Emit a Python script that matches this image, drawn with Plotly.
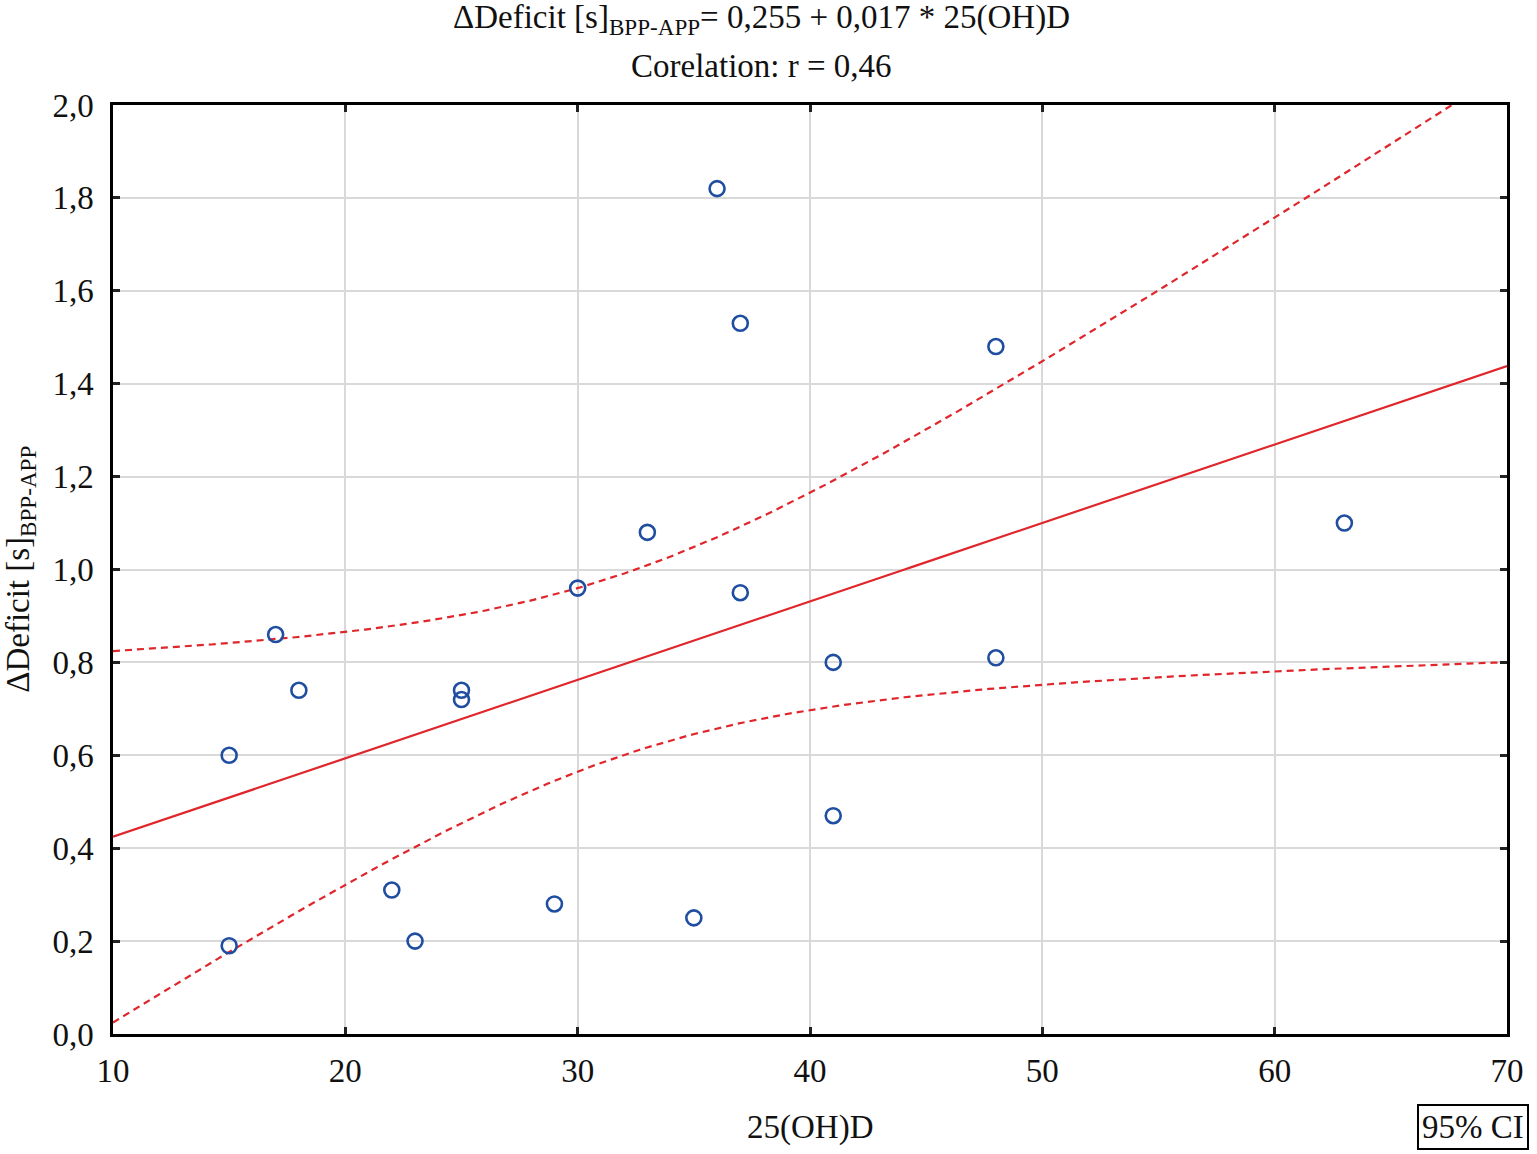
import numpy as np
import plotly.graph_objects as go

# ---- data ----
vit_d = [15, 15, 17, 18, 22, 23, 25, 25, 29, 30, 33, 35, 36, 37, 37, 41, 41, 48, 48, 63]
deficit = [0.60, 0.19, 0.86, 0.74, 0.31, 0.20, 0.74, 0.72, 0.28, 0.96, 1.08, 0.25,
           1.82, 1.53, 0.95, 0.80, 0.47, 1.48, 0.81, 1.10]
x_ticks = [10, 20, 30, 40, 50, 60, 70]
y_ticks = [0.0, 0.2, 0.4, 0.6, 0.8, 1.0, 1.2, 1.4, 1.6, 1.8, 2.0]
title_line1 = "ΔDeficit [s]<sub>BPP-APP</sub>= 0,255 + 0,017 * 25(OH)D"
title_line2 = "Corelation: r = 0,46"
x_label = "25(OH)D"
y_label = "ΔDeficit [s]<sub>BPP-APP</sub>"
ci_label = "95% CI"

# ---- regression and 95% confidence band ----
xa = np.array(vit_d, float)
ya = np.array(deficit, float)
n = len(xa)
b1, b0 = np.polyfit(xa, ya, 1)
resid = ya - (b0 + b1 * xa)
s = np.sqrt(np.sum(resid ** 2) / (n - 2))
sxx = np.sum((xa - xa.mean()) ** 2)
t_crit = 2.101  # t(0.975, 18)
xg = np.linspace(10, 70, 200)
yfit = b0 + b1 * xg
half = t_crit * s * np.sqrt(1.0 / n + (xg - xa.mean()) ** 2 / sxx)

RED = "#e0262b"
BLUE = "#1f4ea1"
FONT = "Liberation Serif"
FS = 33

fig = go.Figure()
fig.add_trace(go.Scatter(x=xg, y=yfit + half, mode="lines",
                         line=dict(color=RED, width=2.2, dash="7px,5px"), hoverinfo="skip"))
fig.add_trace(go.Scatter(x=xg, y=yfit - half, mode="lines",
                         line=dict(color=RED, width=2.2, dash="7px,5px"), hoverinfo="skip"))
fig.add_trace(go.Scatter(x=xg, y=yfit, mode="lines",
                         line=dict(color=RED, width=2.2), hoverinfo="skip"))
fig.add_trace(go.Scatter(x=vit_d, y=deficit, mode="markers",
                         marker=dict(symbol="circle-open", size=15, color=BLUE,
                                     line=dict(width=2.6, color=BLUE))))

axis_common = dict(
    showline=True, linecolor="black", linewidth=2.5, mirror="ticks",
    ticks="inside", ticklen=7, tickwidth=2.5, tickcolor="#222222",
    showgrid=True, gridcolor="#d9d9d9", gridwidth=2, zeroline=False,
    tickfont=dict(family=FONT, size=FS, color="#111111"),
)

fig.update_xaxes(range=[10, 70], tickvals=x_ticks, ticktext=[str(v) for v in x_ticks],
                 ticklabelstandoff=6, **axis_common)
fig.update_yaxes(range=[0, 2.0], tickvals=y_ticks,
                 ticktext=[f"{v:.1f}".replace(".", ",") for v in y_ticks],
                 ticklabelstandoff=10, **axis_common)

ann_font = dict(family=FONT, size=FS, color="#111111")
fig.update_layout(
    width=1537, height=1154,
    margin=dict(l=113, r=30, t=105, b=120),
    paper_bgcolor="white", plot_bgcolor="white",
    showlegend=False,
    annotations=[
        dict(text=title_line1, xref="paper", yref="paper", x=0.465, y=1.0915,
             showarrow=False, xanchor="center", yanchor="middle", font=ann_font),
        dict(text=title_line2, xref="paper", yref="paper", x=0.465, y=1.042,
             showarrow=False, xanchor="center", yanchor="middle", font=ann_font),
        dict(text=x_label, xref="paper", yref="paper", x=0.5, y=-0.101,
             showarrow=False, xanchor="center", yanchor="middle", font=ann_font),
        dict(text=y_label, xref="paper", yref="paper", x=-0.0665, y=0.5,
             showarrow=False, xanchor="center", yanchor="middle", textangle=-90,
             font=ann_font),
        dict(text=ci_label, xref="paper", yref="paper", x=0.9755, y=-0.100,
             showarrow=False, xanchor="center", yanchor="middle", font=ann_font,
             bordercolor="black", borderwidth=2, borderpad=3, bgcolor="white"),
    ],
)

fig.write_html("out.html", config={"displayModeBar": False},
               post_script="document.body.style.margin='0';")
